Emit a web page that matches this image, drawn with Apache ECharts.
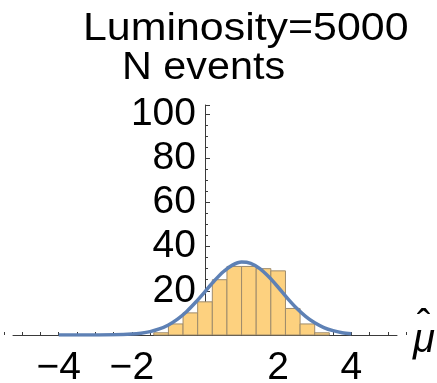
<!DOCTYPE html>
<html>
<head>
<meta charset="utf-8">
<script src="https://cdn.jsdelivr.net/npm/echarts@6/dist/echarts.min.js"></script>
<style>
  html, body { margin: 0; padding: 0; background: #fff; }
  #chart { width: 437px; height: 383px; }
</style>
</head>
<body>
<div id="chart"></div>
<script>
// Histogram of fitted signal strengths with a Gaussian overlay
const titleText = 'Luminosity=5000';
const yAxisName = 'N events';
const xAxisSymbol = 'μ';
const xAxisHat = 'ˆ';

// bin edges (lower edge of each bin, last entry closes the final bin)
const binEdges = [-1.4, -1.0, -0.6, -0.2, 0.2, 0.6, 1.0, 1.4, 1.8, 2.2, 2.6, 3.0, 3.4];
const binCounts = [1, 5, 10, 15, 25, 31, 31, 30, 29, 12, 5, 1];

// Gaussian curve sampled along the x axis
const curveX = [-4, -3.5, -3, -2.5, -2, -1.75, -1.5, -1.25, -1, -0.75, -0.5, -0.25, 0,
  0.25, 0.5, 0.75, 1, 1.25, 1.5, 1.75, 2, 2.25, 2.5, 2.75, 3, 3.25, 3.5, 3.75, 4];
const curveY = [0, 0, 0.02, 0.09, 0.41, 0.82, 1.54, 2.73, 4.55, 7.17, 10.65, 14.9, 19.6,
  24.4, 28.6, 31.6, 33.0, 32.4, 30.0, 26.2, 21.6, 16.7, 12.2, 8.45, 5.5, 3.37, 1.95, 1.06, 0.55];

const xTickLabels = [-4, -2, 2, 4];
const yTickLabels = [20, 40, 60, 80, 100];

const bins = binCounts.map((c, i) => [binEdges[i], binEdges[i + 1], c]);
const curve = curveX.map((x, i) => [x, curveY[i]]);

const FONT = '"Liberation Sans", Arial, sans-serif';
const AXIS_COLOR = '#3a3a3a';

// plot frame: the data grid spans -5.25..5.25; the tick grid spans -5.5..5.5 with the same scale
const xMin = -5.25, xMax = 5.25;
const gridLeft = 13, gridRight = 40, gridTop = 105, gridBottom = 48;
const unitPx = (437 - gridLeft - gridRight) / (xMax - xMin);

const chart = echarts.init(document.getElementById('chart'), null, { renderer: 'canvas' });

chart.setOption({
  animation: false,
  backgroundColor: '#ffffff',
  grid: [
    { left: gridLeft, right: gridRight, top: gridTop, bottom: gridBottom,
      containLabel: false, outerBoundsMode: 'none' },
    { left: gridLeft - 0.25 * unitPx, right: gridRight - 0.25 * unitPx, top: gridTop, bottom: gridBottom,
      containLabel: false, outerBoundsMode: 'none' }
  ],
  xAxis: [
    {
      gridIndex: 0, type: 'value', min: xMin, max: xMax,
      axisLine: { show: true, onZero: true, lineStyle: { color: AXIS_COLOR, width: 1 } },
      axisTick: { show: false }, axisLabel: { show: false }, splitLine: { show: false }
    },
    {
      gridIndex: 1, type: 'value', min: -5.5, max: 5.5, interval: 0.5,
      axisLine: { show: false },
      axisTick: { show: true, inside: true, length: 3, lineStyle: { color: AXIS_COLOR, width: 1 } },
      axisLabel: {
        show: true, margin: 14, color: '#000', fontSize: 39, fontFamily: FONT,
        formatter: v => xTickLabels.some(t => Math.abs(t - v) < 1e-9) ? String(v).replace('-', '\u2212') : ''
      },
      splitLine: { show: false }
    }
  ],
  yAxis: [
    {
      gridIndex: 0, type: 'value', min: 0, max: 104, interval: 20,
      position: 'left',
      // move the whole axis (line, ticks, labels) to x = 0
      offset: xMin * unitPx,
      axisLine: { show: true, onZero: false, lineStyle: { color: AXIS_COLOR, width: 1 } },
      axisTick: { show: true, inside: true, length: 5, lineStyle: { color: AXIS_COLOR, width: 1 } },
      minorTick: { show: true, splitNumber: 4, length: 3, lineStyle: { color: AXIS_COLOR, width: 1 } },
      axisLabel: {
        show: true, margin: 9, color: '#000', fontSize: 39, fontFamily: FONT,
        formatter: v => yTickLabels.indexOf(v) >= 0 ? String(v) : ''
      },
      splitLine: { show: false }
    },
    { gridIndex: 1, type: 'value', min: 0, max: 104, show: false }
  ],
  series: [
    {
      type: 'custom',
      xAxisIndex: 0, yAxisIndex: 0,
      data: bins,
      renderItem: (params, api) => {
        const p0 = api.coord([api.value(0), api.value(2)]);
        const p1 = api.coord([api.value(1), 0]);
        return {
          type: 'rect',
          shape: { x: p0[0], y: p0[1], width: p1[0] - p0[0], height: p1[1] - p0[1] },
          style: { fill: '#FDD17F', stroke: '#9E8B6C', lineWidth: 1 }
        };
      },
      z: 2
    },
    {
      type: 'line',
      xAxisIndex: 0, yAxisIndex: 0,
      data: curve,
      smooth: 0.3,
      showSymbol: false,
      lineStyle: { color: '#5E81B5', width: 3.5 },
      z: 3
    }
  ],
  graphic: [
    {
      type: 'text', x: 83, y: 29, scaleX: 1.1,
      style: { text: titleText, fontSize: 39, fontFamily: FONT, fill: '#000', textVerticalAlign: 'middle' }
    },
    {
      type: 'text', x: 122, y: 68, scaleX: 1.06,
      style: { text: yAxisName, fontSize: 39, fontFamily: FONT, fill: '#000', textVerticalAlign: 'middle' }
    },
    {
      type: 'text', x: 413, y: 341,
      style: { text: xAxisSymbol, fontSize: 40, fontFamily: FONT, fontStyle: 'italic', fill: '#000', textVerticalAlign: 'middle' }
    },
    {
      type: 'text', x: 417, y: 327,
      style: { text: xAxisHat, fontSize: 40, fontFamily: FONT, fill: '#000', textVerticalAlign: 'middle' }
    }
  ]
});
</script>
</body>
</html>
